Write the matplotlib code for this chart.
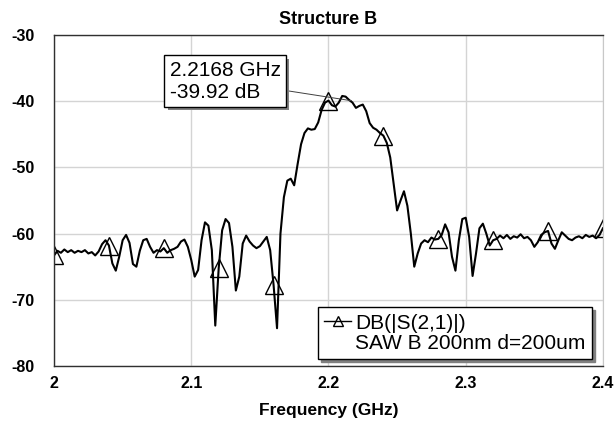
import numpy as np
import matplotlib
matplotlib.use("Agg")
import matplotlib.pyplot as plt
import matplotlib.patheffects as pe
from matplotlib.lines import Line2D

plt.rcParams['font.family'] = ['Liberation Sans', 'DejaVu Sans']
plt.rcParams['axes.unicode_minus'] = False

# sweep 2.0 - 2.4 GHz, 0.0025 GHz steps (161 points)
freq = np.linspace(2.0, 2.4, 161)
s21_db = [
    -63.3, -62.6, -62.9, -62.4, -62.8, -62.5, -62.9, -62.6, -62.8, -62.5,  # 2.000
    -63.0, -62.8, -63.3, -62.7, -61.6, -61.0, -61.8, -64.5, -65.6, -63.5,  # 2.025
    -61.0, -60.2, -61.4, -64.6, -65.0, -62.6, -61.0, -60.8, -62.0, -62.9,  # 2.050
    -62.5, -62.7, -62.2, -62.9, -62.5, -62.3, -62.0, -61.2, -60.9, -62.0,  # 2.075
    -64.0, -66.5, -65.5, -61.0, -58.3, -58.8, -62.5, -73.9, -65.2, -59.5,  # 2.100
    -57.8, -58.4, -62.0, -68.6, -66.5, -61.5, -60.3, -61.2, -61.8, -62.2,  # 2.125
    -61.9, -61.2, -60.5, -62.5, -67.8, -74.3, -60.0, -54.5, -52.0, -51.7,  # 2.150
    -52.7, -49.5, -46.5, -44.8, -44.1, -44.3, -44.2, -43.2, -41.3, -40.2,  # 2.175
    -39.9, -40.6, -40.8, -40.2, -39.2, -39.3, -39.8, -40.2, -41.0, -40.7,  # 2.200
    -40.5, -41.5, -43.3, -44.0, -44.3, -44.8, -45.2, -46.3, -48.5, -52.5,  # 2.225
    -56.5, -55.0, -53.6, -55.8, -60.0, -65.0, -63.0, -61.5, -61.0, -61.3,  # 2.250
    -60.6, -60.9, -60.8, -60.2, -58.6, -59.8, -63.5, -65.6, -61.0, -57.8,  # 2.275
    -57.6, -60.5, -66.4, -63.0, -59.2, -58.5, -60.0, -61.8, -61.0, -60.8,  # 2.300
    -60.3, -60.7, -60.2, -60.8, -60.4, -60.6, -60.1, -60.7, -60.5, -61.0,  # 2.325
    -62.0, -61.3, -60.2, -59.8, -59.6, -61.5, -62.3, -61.0, -59.8, -60.3,  # 2.350
    -60.8, -61.0, -60.6, -60.4, -60.7, -60.2, -60.5, -60.3, -60.7, -60.2,  # 2.375
    -59.2,                                                                  # 2.400
]
marker_step = 16  # triangle every 0.04 GHz

# marker m1 readout
m1_freq = 2.2168
m1_db = -39.92
m1_text = '2.2168 GHz\n-39.92 dB'

x_ticks = [2.0, 2.1, 2.2, 2.3, 2.4]
x_tick_labels = ['2', '2.1', '2.2', '2.3', '2.4']
y_ticks = [-80, -70, -60, -50, -40, -30]

trace_label = 'DB(|S(2,1)|)'
trace_desc = 'SAW B 200nm d=200um'

fig = plt.figure(figsize=(6.14, 4.28), dpi=100)
ax = fig.add_axes([0.088, 0.145, 0.894, 0.773])

ax.plot(freq, s21_db, color='black', lw=1.5, marker='^', markevery=marker_step,
        markersize=13, mfc='none', mec='black', mew=1.0)

ax.set_xlim(2.0, 2.4)
ax.set_ylim(-80, -30)
ax.set_xticks(x_ticks)
ax.set_xticklabels(x_tick_labels)
ax.set_yticks(y_ticks)
ax.grid(True, color='#d4d4d4', lw=1.0)
ax.set_axisbelow(True)
ax.tick_params(axis='both', length=0, labelsize=11.5)
ax.tick_params(axis='y', pad=14)
ax.tick_params(axis='x', pad=7)
for lbl in ax.get_xticklabels() + ax.get_yticklabels():
    lbl.set_fontweight('bold')

for side in ['left', 'bottom', 'top']:
    ax.spines[side].set_color('#303030')
    ax.spines[side].set_linewidth(1.0)
ax.spines['right'].set_color('#c8c8c8')

ax.set_title('Structure B', fontsize=13, fontweight='bold', pad=8)
ax.set_xlabel('Frequency (GHz)', fontsize=12.5, fontweight='bold', labelpad=9)

# marker readout box
ann = ax.annotate(m1_text, xy=(m1_freq, m1_db), xytext=(0.3115, 0.861),
                  textcoords='axes fraction', ha='center', va='center',
                  multialignment='left', fontsize=15, zorder=5,
                  bbox=dict(boxstyle='square,pad=0.25', fc='white', ec='black', lw=1.0),
                  arrowprops=dict(arrowstyle='-', color='#404040', lw=0.7,
                                  shrinkA=0, shrinkB=0))
ann.get_bbox_patch().set_path_effects(
    [pe.withSimplePatchShadow(offset=(2.5, -2.5), shadow_rgbFace='#808080', alpha=1.0)])

# legend
h1 = Line2D([], [], color='black', lw=1.0, marker='^', markersize=7.5,
            mfc='none', mec='black', mew=1.0)
h2 = Line2D([], [], color='none')
leg = ax.legend([h1, h2], [trace_label, trace_desc], loc='lower right',
                bbox_to_anchor=(0.98, 0.021), fontsize=15, frameon=True,
                fancybox=False, shadow={'color': '#808080', 'alpha': 1.0},
                edgecolor='black', framealpha=1.0, handlelength=1.3,
                handletextpad=0.2, labelspacing=0.05, borderpad=0.3,
                borderaxespad=0)
leg.get_frame().set_linewidth(1.0)

fig.savefig('out.png', dpi=100)
